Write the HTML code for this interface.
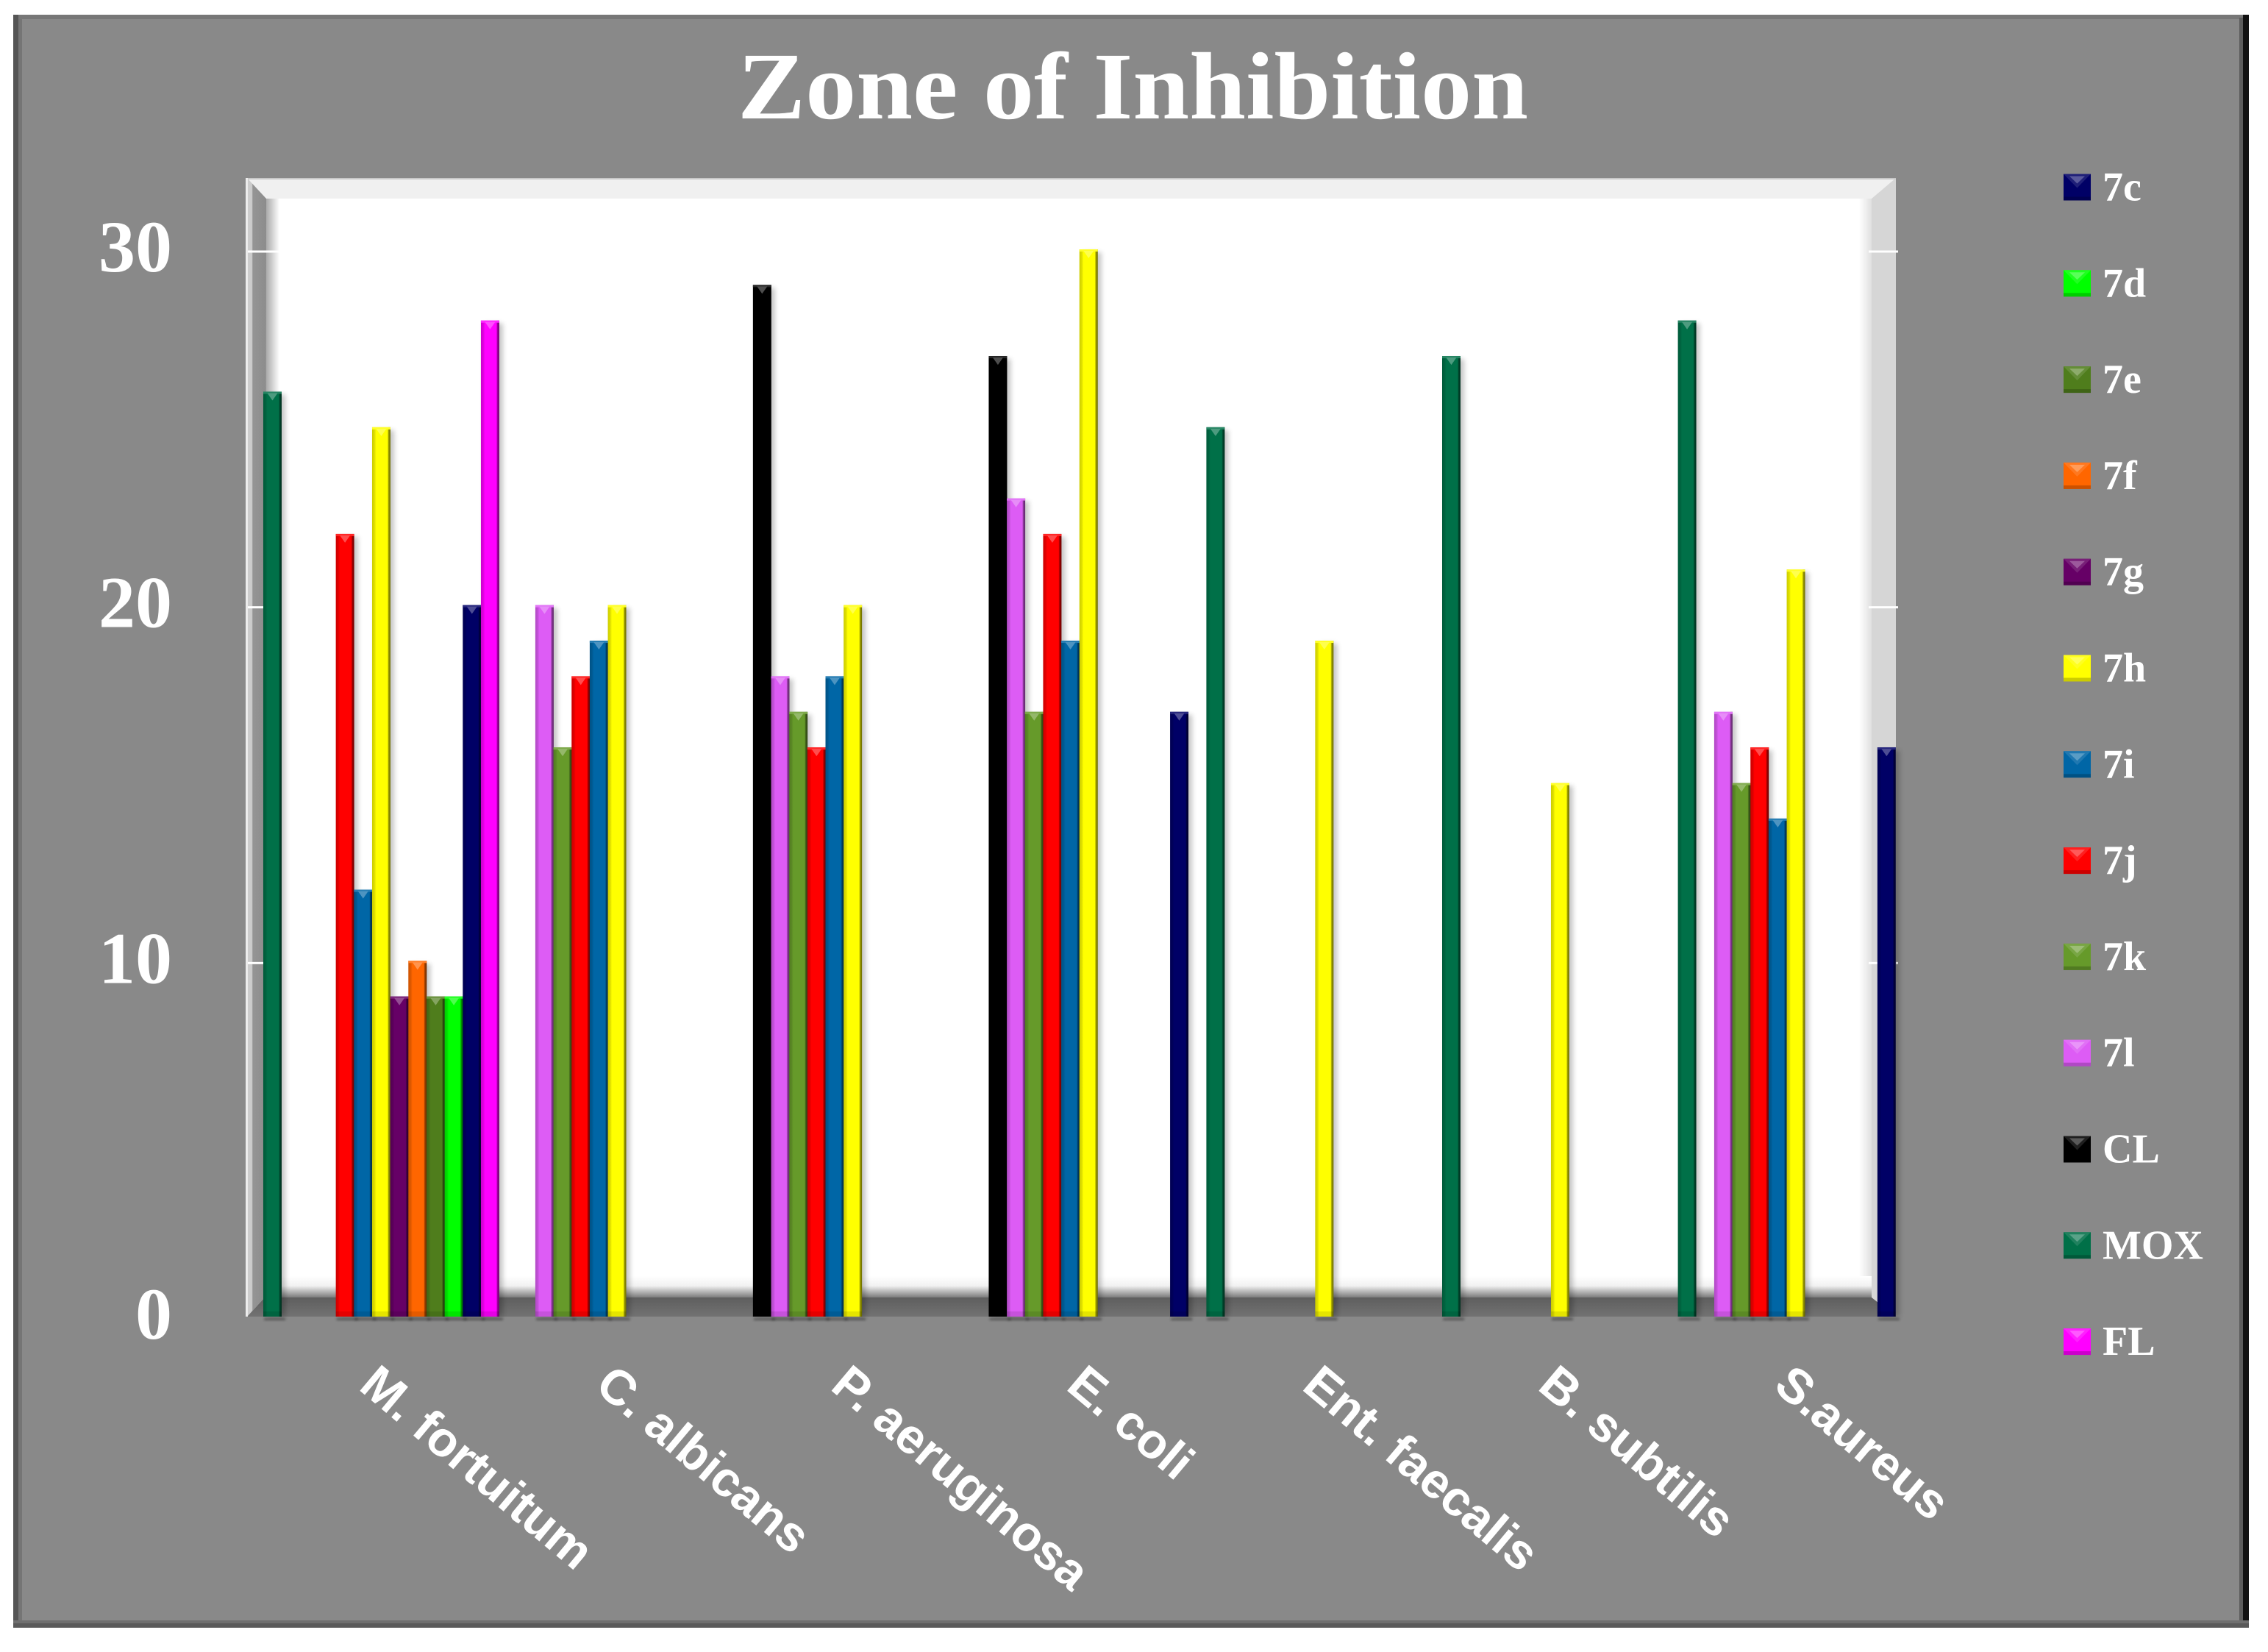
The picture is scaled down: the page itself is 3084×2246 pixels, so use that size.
<!DOCTYPE html>
<html lang="en">
<head>
<meta charset="utf-8">
<title>Zone of Inhibition</title>
<style>
html,body{margin:0;padding:0;background:#fff;width:3084px;height:2246px;overflow:hidden}
svg{display:block}
text{fill:#fff}
.serif{font-family:"Liberation Serif",serif;font-weight:bold}
.sans{font-family:"Liberation Sans",sans-serif;font-weight:bold}
</style>
</head>
<body>
<svg id="chart" xmlns="http://www.w3.org/2000/svg" width="3084" height="2246" viewBox="0 0 3084 2246">
  <defs>
    <filter id="soft" x="-100%" y="-5%" width="300%" height="110%"><feGaussianBlur stdDeviation="3.5"/></filter>
    <filter id="softB" x="-10%" y="-100%" width="120%" height="300%"><feGaussianBlur stdDeviation="1.5"/></filter>
    <linearGradient id="fadeL" x1="0" x2="1" y1="0" y2="0"><stop offset="0" stop-color="#a0a0a0"/><stop offset="1" stop-color="#fff"/></linearGradient>
    <linearGradient id="fadeR" x1="0" x2="1" y1="0" y2="0"><stop offset="0" stop-color="#fff"/><stop offset="1" stop-color="#e0e0e0"/></linearGradient>
    <linearGradient id="fadeB" x1="0" x2="0" y1="0" y2="1"><stop offset="0" stop-color="#fff"/><stop offset="0.45" stop-color="#f2f2f2"/><stop offset="1" stop-color="#7c7c7c"/></linearGradient>
    <linearGradient id="bandB" x1="0" x2="0" y1="0" y2="1"><stop offset="0" stop-color="#5e5e5e"/><stop offset="1" stop-color="#727272"/></linearGradient>
    <linearGradient id="bandL" x1="0" x2="1" y1="0" y2="0"><stop offset="0" stop-color="#cccccc"/><stop offset="0.25" stop-color="#cccccc"/><stop offset="0.3" stop-color="#959595"/><stop offset="1" stop-color="#8c8c8c"/></linearGradient>
  </defs>

  <g>
    <rect x="18" y="20" width="3040" height="2193" fill="#898989"/>
    <rect x="18" y="20" width="3040" height="6" fill="#777"/>
    <rect x="18" y="20" width="7" height="2193" fill="#555"/>
    <rect x="25" y="26" width="5" height="2180" fill="#757575"/>
    <rect x="3050" y="20" width="8" height="2193" fill="#111"/>
    <rect x="3045" y="24" width="5" height="2186" fill="#5c5c5c"/>
    <rect x="18" y="2203" width="3040" height="4" fill="#6f6f6f"/>
    <rect x="18" y="2207" width="3040" height="6" fill="#5a5a5a"/>
  </g>

  <text class="serif" x="1003" y="161" font-size="130" textLength="1075" lengthAdjust="spacingAndGlyphs">Zone of Inhibition</text>

  <g>
    <rect x="336" y="242" width="2242" height="1548" fill="#fff"/>
    <rect x="360" y="270" width="20" height="1490" fill="url(#fadeL)"/>
    <rect x="2528" y="270" width="17" height="1490" fill="url(#fadeR)"/>
    <rect x="360" y="1735" width="2185" height="29" fill="url(#fadeB)"/>
    <polygon points="336,242 2578,242 2545,270 362,270" fill="#f0f0f0"/>
    <polygon points="336,242 362,270 360,1764 336,1790" fill="url(#bandL)"/>
    <polygon points="2578,242 2545,270 2545,1764 2578,1790" fill="#d6d6d6"/>
    <polygon points="336,1790 360,1764 2545,1764 2578,1790" fill="url(#bandB)"/>
    <rect x="336" y="242" width="2242" height="2" fill="#c8c8c8"/>
    <rect x="334" y="242" width="3" height="1548" fill="#ececec"/>
  </g>
  <g id="ticks"></g>
  <g id="bars"></g>
  <g id="xlabels"></g>
  <g id="legend"></g>
</svg>

<script>
const categories = ["M. fortuitum","C. albicans","P. aeruginosa","E. coli","Ent. faecalis","B. subtilis","S.aureus"];
const yTicks = [0,10,20,30];
const legendOrder = ["7c","7d","7e","7f","7g","7h","7i","7j","7k","7l","CL","MOX","FL"];
const seriesOrder = ["MOX","CL","7l","7k","7j","7i","7h","7g","7f","7e","7d","7c","FL"];

const valuesMOX = [26,null,null,null,25,27,28];
const valuesCL  = [null,null,29,27,null,null,null];
const values7l  = [null,20,18,23,null,null,17];
const values7k  = [null,16,17,17,null,null,15];
const values7j  = [22,18,16,22,null,null,16];
const values7i  = [12,19,18,19,null,null,14];
const values7h  = [25,20,20,30,19,15,21];
const values7g  = [9,null,null,null,null,null,null];
const values7f  = [10,null,null,null,null,null,null];
const values7e  = [9,null,null,null,null,null,null];
const values7d  = [9,null,null,null,null,null,null];
const values7c  = [20,null,null,17,null,null,16];
const valuesFL  = [28,null,null,null,null,null,null];

const seriesValues = {"MOX":valuesMOX,"CL":valuesCL,"7l":values7l,"7k":values7k,"7j":values7j,"7i":values7i,"7h":values7h,"7g":values7g,"7f":values7f,"7e":values7e,"7d":values7d,"7c":values7c,"FL":valuesFL};
const seriesColors = {"MOX":"#007048","CL":"#000000","7l":"#dd5cf5","7k":"#669a2a","7j":"#ff0000","7i":"#0066a6","7h":"#ffff00","7g":"#660066","7f":"#ff6600","7e":"#4f7d1c","7d":"#00ff00","7c":"#000066","FL":"#ff00ff"};

const NS = "http://www.w3.org/2000/svg";
const BASE_Y = 1790, TOP_Y = 339, MAX_V = 30;
const CAT_W = 320.6;
const SLOT_W = CAT_W / seriesOrder.length;
const FIRST_X = 358;

function yScale(v){ return BASE_Y - (v / MAX_V) * (BASE_Y - TOP_Y); }
function xScale(cat, s){ return FIRST_X + (cat + s / seriesOrder.length) * CAT_W; }

function mk(tag, attrs, parent){
  const el = document.createElementNS(NS, tag);
  for (const k in attrs) el.setAttribute(k, attrs[k]);
  if (parent) parent.appendChild(el);
  return el;
}
function shade(hex, f){
  const n = parseInt(hex.slice(1), 16);
  const c = [(n>>16)&255,(n>>8)&255,n&255].map(x => f <= 1 ? Math.round(x*f) : Math.round(x+(255-x)*(f-1)));
  return "rgb(" + c.join(",") + ")";
}

const svg = document.getElementById("chart");
const defs = svg.querySelector("defs");
seriesOrder.forEach((name, i) => {
  const g = mk("linearGradient", {id:"bar"+i, x1:0, x2:1, y1:0, y2:0}, defs);
  const col = seriesColors[name];
  mk("stop", {offset:0, "stop-color":shade(col,0.8)}, g);
  mk("stop", {offset:0.14, "stop-color":shade(col,0.88)}, g);
  mk("stop", {offset:0.22, "stop-color":col}, g);
  mk("stop", {offset:0.84, "stop-color":col}, g);
  mk("stop", {offset:0.9, "stop-color":shade(col,0.6)}, g);
  mk("stop", {offset:1, "stop-color":shade(col,0.42)}, g);
});

const ticksG = document.getElementById("ticks");
yTicks.forEach(t => {
  const y = yScale(t);
  const lab = mk("text", {class:"serif", x:234, y:y + 30, "font-size":100, "text-anchor":"end"}, ticksG);
  lab.textContent = t;
  
  
  if (t > 0) {
    const l1 = mk("rect", {x:337, y:y+1.5, width:48, height:3, fill:"#fff"}, ticksG);
    
    
    const l2 = mk("rect", {x:2541, y:y+1.5, width:40, height:3, fill:"#fff"}, ticksG);
    
    
  }
});

const barsG = document.getElementById("bars");
seriesOrder.forEach((name, s) => {
  const col = seriesColors[name];
  seriesValues[name].forEach((v, c) => {
    if (v === null) return;
    const x = xScale(c, s), y = yScale(v), w = SLOT_W + 0.3, h = BASE_Y - y;
    const g = mk("g", {}, barsG);
    
    
    mk("rect", {x:x+5, y:y+4, width:w, height:h-4, fill:"#000", opacity:0.22, filter:"url(#soft)"}, g);
    mk("rect", {x:x+1, y:BASE_Y+2, width:w+4, height:3, fill:"#000", opacity:0.35, filter:"url(#softB)"}, g);
    mk("rect", {x:x, y:y, width:w, height:h, fill:"url(#bar"+s+")"}, g);
    mk("rect", {x:x, y:y, width:w, height:3, fill:shade(col,1.15)}, g);
    mk("polygon", {points:(x+w*0.22)+","+(y+2)+" "+(x+w*0.78)+","+(y+2)+" "+(x+w/2)+","+(y+12), fill:shade(col,1.3)}, g);
    mk("rect", {x:x, y:BASE_Y-7, width:w, height:7, fill:"#000", opacity:0.1}, g);
  });
});

const xG = document.getElementById("xlabels");
const LABEL_X0 = 486, LABEL_Y0 = 1888;
categories.forEach((name, i) => {
  const x = LABEL_X0 + i * CAT_W;
  const t = mk("text", {class:"sans", x:x, y:LABEL_Y0, "font-size":67, transform:"rotate(40 "+x+" "+LABEL_Y0+")"}, xG);
  t.textContent = name;
  
  
});

const legG = document.getElementById("legend");
legendOrder.forEach((name, i) => {
  const cy = 254.5 + i * 130.8;
  const col = seriesColors[name];
  const g = mk("g", {}, legG);
  
  
  mk("rect", {x:2806, y:cy-18, width:37, height:36, fill:col}, g);
  mk("polygon", {points:"2806,"+(cy-18)+" 2843,"+(cy-18)+" 2824.5,"+(cy+1), fill:shade(col,1.12)}, g);
  mk("polygon", {points:"2814,"+(cy-15)+" 2835,"+(cy-15)+" 2824.5,"+(cy-5), fill:shade(col,1.35)}, g);
  mk("rect", {x:2806, y:cy+13, width:37, height:5, fill:"#000", opacity:0.2}, g);
  const t = mk("text", {class:"serif", x:2859, y:cy+18, "font-size":56}, g);
  t.textContent = name;
});
</script>
</body>
</html>
